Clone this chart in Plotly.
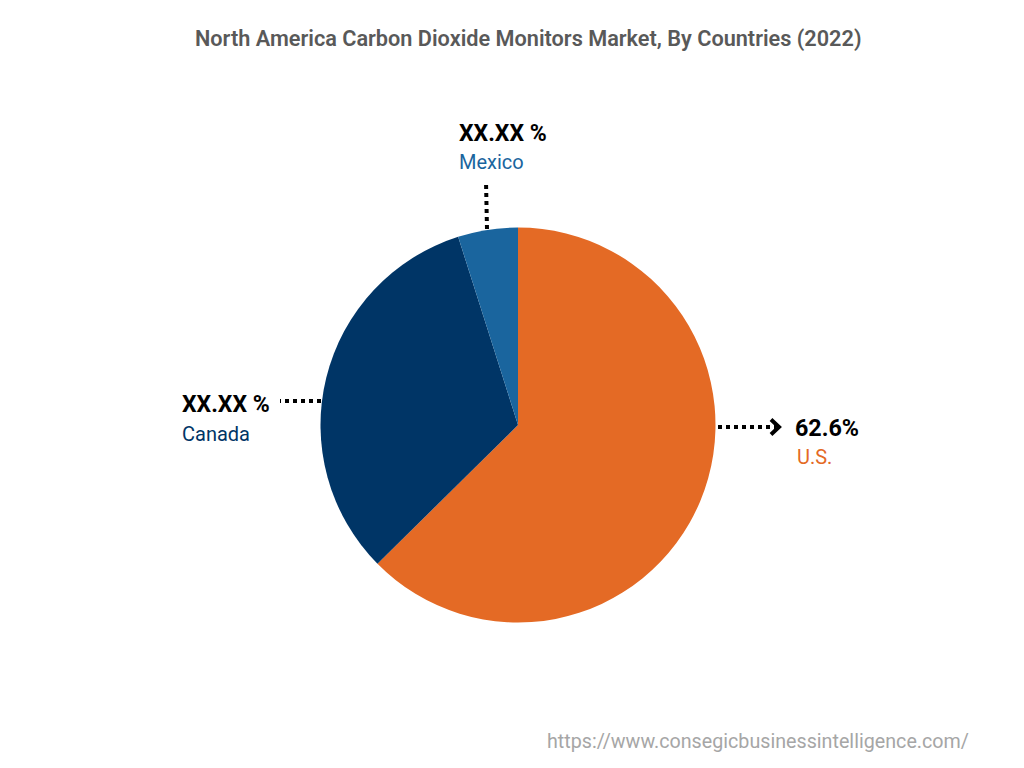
import plotly.graph_objects as go

countries = ["U.S.", "Canada", "Mexico"]
shares = [62.6, 32.5, 4.9]
value_labels = ["62.6%", "XX.XX %", "XX.XX %"]
colors = ["#E46A25", "#003566", "#1A659E"]
title = "North America Carbon Dioxide Monitors Market, By Countries (2022)"
source = "https://www.consegicbusinessintelligence.com/"

W, H = 1024, 768
FONT = "Roboto"

def px(x):
    return x / W

def py(y):
    return 1 - y / H

fig = go.Figure(go.Pie(
    labels=countries, values=shares, sort=False, direction="clockwise", rotation=0,
    marker=dict(colors=colors, line=dict(width=0)),
    textinfo="none", hoverinfo="label+percent", showlegend=False,
    domain=dict(x=[px(320.5), px(715.5)], y=[py(622.5), py(227.5)]),
))

def text(x, y, s, size, color, weight=400, anchor="left"):
    return dict(x=px(x), y=py(y), xref="paper", yref="paper", text=s, showarrow=False,
                xanchor=anchor, yanchor="middle", align=anchor,
                font=dict(family=FONT, size=size, color=color, weight=weight))

annotations = [
    text(528.5, 39, title, 21.7, "#595959", 600, "center"),
    text(793, 428, value_labels[0], 23.3, "#000000", 700),
    text(795, 457, countries[0], 20, colors[0]),
    text(180, 404, value_labels[1], 23, "#000000", 700),
    text(180, 434, countries[1], 20, colors[1]),
    text(457, 133, value_labels[2], 23, "#000000", 700),
    text(457, 162, countries[2], 20, colors[2]),
    text(758, 741, source, 19.7, "#A6A6A6", 400, "center"),
]

def dotted(x0, y0, x1, y1):
    return dict(type="line", xref="paper", yref="paper", x0=px(x0), y0=py(y0), x1=px(x1), y1=py(y1),
                line=dict(color="#000000", width=4, dash="4px,4px"))

shapes = [
    dotted(718, 427, 776, 427),
    dotted(321, 401, 280, 401),
    dotted(487, 229, 486, 181),
    dict(type="path", xref="paper", yref="paper", line=dict(color="#000000", width=4),
         path=f"M {px(771)},{py(419.5)} L {px(779)},{py(427)} L {px(771)},{py(434.5)}"),
]

fig.update_layout(
    width=W, height=H, margin=dict(l=0, r=0, t=0, b=0),
    paper_bgcolor="#FFFFFF", plot_bgcolor="#FFFFFF",
    annotations=annotations, shapes=shapes,
)
fig.write_html("out.html", config=dict(displayModeBar=False),
               post_script="document.body.style.margin='0';document.documentElement.style.overflow='hidden';")
